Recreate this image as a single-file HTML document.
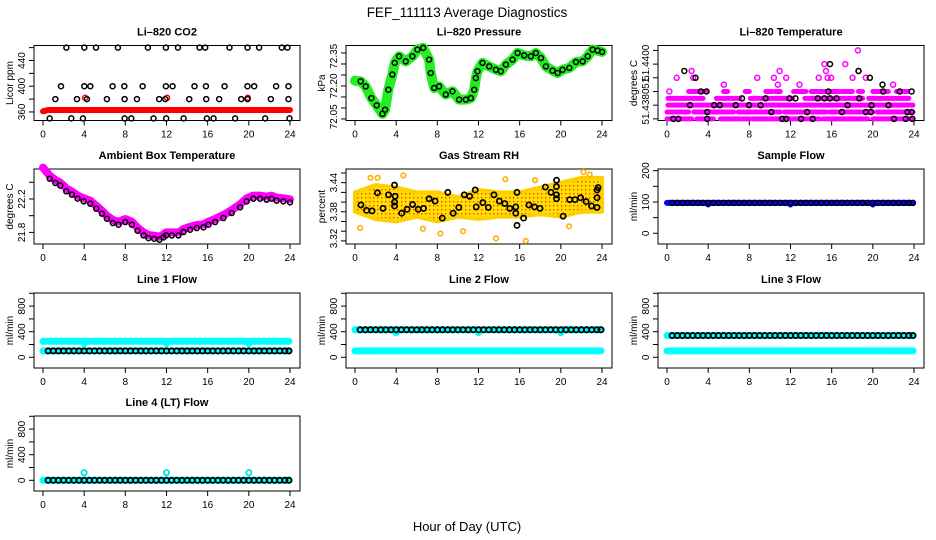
<!DOCTYPE html>
<html><head><meta charset="utf-8"><title>FEF_111113 Average Diagnostics</title>
<style>
html,body{margin:0;padding:0;background:#fff;}
svg{display:block;font-family:"Liberation Sans",sans-serif;}
</style></head>
<body>
<svg id="chart" width="936" height="540" viewBox="0 0 936 540" xmlns="http://www.w3.org/2000/svg">
<defs>
<pattern id="rhpat" width="4" height="4" patternUnits="userSpaceOnUse">
<rect width="4" height="4" fill="#ffe000"/><rect x="1" y="1" width="1.4" height="1.4" fill="#ff4000"/>
</pattern>
<pattern id="grpat" width="3" height="3" patternUnits="userSpaceOnUse">
<rect width="3" height="3" fill="#22ee22"/><rect x="1" y="1" width="1" height="1" fill="#006600"/>
</pattern>
</defs>
<text x="467" y="17" font-size="13.5" text-anchor="middle">FEF_111113  Average Diagnostics</text>
<text x="467" y="531" font-size="13" text-anchor="middle">Hour of Day (UTC)</text>
</svg>
<script>
// ---------- data ----------
const hourTicks = [0,4,8,12,16,20,24];
// CO2
const co2Hours460 = [2.27,4.01,5.15,7.28,10.19,11.94,13.11,15.21,15.76,18.12,19.87,21.0,23.2,23.75];
const co2Hours400 = [1.75,4.01,4.6,6.76,7.9,9.68,11.94,12.59,14.72,15.83,17.64,19.87,20.52,22.65,23.85];
const co2Hours380 = [1.2,3.3,4.27,6.21,7.93,9.13,11.29,11.88,14.21,15.86,17.12,19.26,19.87,22.14,23.85];
const co2Hours350 = [0.65,2.75,3.88,7.93,8.58,10.74,11.97,13.66,15.92,16.57,18.67,21.59,23.95];
const co2RedBandHours = [0,0.5,24];
const co2RedBandValues = [361,363,363];
const co2RedHours = [4.1,12.05,19.9];
const co2RedValues = [382,382,382];
// Pressure
const presHours = [0,0.55,1.04,1.59,2.11,2.66,2.92,3.24,3.63,3.86,4.28,4.93,5.58,6.07,6.62,7.2,7.36,7.69,8.17,8.82,9.47,10.12,10.77,11.26,11.58,11.74,11.9,12.39,13.04,13.69,14.17,14.66,15.31,15.8,16.44,17.09,17.58,18.07,18.55,19.2,19.69,20.17,20.82,21.47,22.12,22.61,23.09,23.58,24];
const presValues = [72.224,72.221,72.198,72.145,72.112,72.073,72.092,72.183,72.252,72.305,72.335,72.312,72.335,72.365,72.373,72.32,72.259,72.191,72.198,72.161,72.176,72.138,72.138,72.145,72.183,72.236,72.267,72.305,72.289,72.274,72.267,72.297,72.32,72.35,72.339,72.335,72.35,72.327,72.289,72.27,72.259,72.274,72.282,72.309,72.312,72.335,72.365,72.361,72.355];
// Li-820 temperature
const tempRunLevels = [51.4375,51.43775,51.438,51.43825,51.4385];
const tempRuns = [
 [[0,2.4],[2.9,4.5],[5.2,8.0],[8.3,11.2],[11.5,14.8],[15.2,19.5],[20.0,23.8]],
 [[0,2.1],[2.6,6.5],[6.9,11.0],[11.4,15.5],[15.8,20.0],[20.4,23.9]],
 [[0.1,4.5],[4.7,14.5],[14.8,23.9]],
 [[0.1,3.5],[4.8,7.1],[8.1,12.2],[13.4,15.2],[15.5,19.0],[19.6,23.5]],
 [[2.1,3.8],[5.5,5.9],[7.6,8.0],[9.6,10.2],[10.5,11.0],[12.3,13.5],[14.0,16.8],[17.0,18.0],[18.6,19.0],[20.0,21.5],[22.3,23.4]]
];
const tempMagHours = [0.94,2.39,2.55,5.52,8.77,10.39,10.77,10.94,11.58,12.87,14.74,15.29,15.45,15.61,15.94,17.32,18.03,18.61,18.55,19.32,21.97,0.23];
const tempMagValues = [51.439,51.43925,51.439,51.43875,51.439,51.439,51.43875,51.43925,51.439,51.43875,51.439,51.4395,51.43925,51.439,51.439,51.4395,51.439,51.43925,51.4400,51.439,51.43875,51.4385];
const tempBlkHours = [1.68,2.77,3.29,3.84,2.23,3.9,3.9,0.61,1.1,4.58,5.13,6.68,7.29,7.97,9.1,9.58,10.13,11.19,11.58,11.9,12.48,13.03,13.61,14.16,14.65,15.29,15.84,15.84,15.68,16.48,17.0,17.55,18.61,18.68,19.32,19.81,19.71,19.87,20.94,21.0,21.52,22.06,22.61,23.19,23.35,23.77,23.77,23.84];
const tempBlkValues = [51.43925,51.439,51.4385,51.4385,51.438,51.43775,51.4375,51.4375,51.4375,51.438,51.438,51.438,51.43825,51.438,51.438,51.43825,51.43775,51.4375,51.4375,51.43825,51.43825,51.4375,51.43775,51.4375,51.43825,51.43825,51.4395,51.43825,51.4385,51.43825,51.43775,51.438,51.43925,51.43825,51.43775,51.43775,51.439,51.438,51.43875,51.4385,51.438,51.4375,51.4385,51.4375,51.43775,51.43775,51.4385,51.4375];
// Ambient box temperature
const ambHours = [0,0.65,1.2,1.68,2.26,2.81,3.36,3.95,4.59,5.17,5.72,6.21,6.79,7.34,7.99,8.63,9.19,9.77,10.25,10.8,11.32,11.71,11.97,12.52,13.16,13.65,14.29,14.94,15.59,16.07,16.72,17.53,18.34,19.15,19.79,20.44,21.09,21.73,22.22,22.7,23.35,24];
const ambValues = [22.539,22.443,22.392,22.36,22.292,22.252,22.205,22.172,22.144,22.084,22.024,21.964,21.912,21.892,21.924,21.892,21.82,21.764,21.732,21.724,21.712,21.74,21.764,21.764,21.764,21.804,21.832,21.852,21.86,21.892,21.924,21.972,22.032,22.1,22.172,22.204,22.204,22.192,22.204,22.18,22.172,22.16];
// Gas stream RH
const rhEnvHours = [0,2,4,6,8,10,12,14,16,18,20,22,24];
const rhUpper = [3.42,3.435,3.43,3.42,3.42,3.41,3.425,3.42,3.42,3.43,3.44,3.45,3.45];
const rhLower = [3.38,3.365,3.36,3.37,3.36,3.37,3.365,3.37,3.37,3.375,3.37,3.38,3.38];
const rhOutHours = [0.5,1.5,2.2,4.7,6.6,8.3,10.5,13.7,14.6,16.6,17.5,20.8,22.2,22.8];
const rhOutValues = [3.347,3.45,3.45,3.455,3.345,3.335,3.34,3.325,3.447,3.32,3.445,3.35,3.462,3.457];
const rhBlkHours = [0.58,1.12,1.66,2.18,2.72,3.26,3.84,3.9,3.84,3.84,4.54,5.06,5.6,6.14,6.66,7.2,7.78,8.48,9.02,9.54,10.08,10.62,11.14,11.68,11.78,12.42,12.96,13.5,14.02,14.56,15.04,15.62,15.62,15.74,15.74,16.38,16.9,17.44,17.98,18.5,19.04,19.58,19.58,19.58,19.58,20.22,20.86,21.38,21.92,22.46,22.98,23.52,23.52,23.52,23.62];
const rhBlkValues = [3.394,3.383,3.382,3.419,3.387,3.415,3.435,3.412,3.40,3.392,3.377,3.385,3.395,3.385,3.387,3.407,3.402,3.367,3.42,3.377,3.389,3.415,3.412,3.425,3.39,3.399,3.389,3.415,3.402,3.397,3.387,3.39,3.377,3.352,3.42,3.367,3.394,3.39,3.387,3.431,3.42,3.445,3.432,3.407,3.415,3.371,3.405,3.405,3.409,3.401,3.392,3.409,3.425,3.389,3.43];
// Flows
const blkHours = [0.5,1,1.5,2,2.5,3,3.5,4,4.5,5,5.5,6,6.5,7,7.5,8,8.5,9,9.5,10,10.5,11,11.5,12,12.5,13,13.5,14,14.5,15,15.5,16,16.5,17,17.5,18,18.5,19,19.5,20,20.5,21,21.5,22,22.5,23,23.5,23.9];
const dipHours = [0,3.9,4,4.1,11.9,12,12.1,19.9,20,20.1,23.9];
const sampleBlueValues = [97,97,92,97,97,92,97,97,92,97,97];
const sampleBlackValue = 97;
const line1UpperValues = [250,250,215,250,250,215,250,250,215,250,250];
const line1LowerValues = [100,100,100,100,100,100,100,100,100,100,100];
const line1BlackValue = 100;
const line2UpperValues = [430,430,385,430,430,385,430,430,385,430,430];
const line2LowerValues = [100,100,100,100,100,100,100,100,100,100,100];
const line2BlackValue = 430;
const line3UpperValues = [340,340,340,340,340,340,340,340,340,340,340];
const line3LowerValues = [100,100,100,100,100,100,100,100,100,100,100];
const line3BlackValue = 340;
const line4CyanValues = [0,0,0,0,0,0,0,0,0,0,0];
const line4SpikeHours = [4,12,20];
const line4SpikeValues = [120,120,120];
const line4BlackValue = 0;

// ---------- layout ----------
const svg = document.getElementById('chart');
const NS = 'http://www.w3.org/2000/svg';
const colLeft = [34,346,658], rowTop = [45.5,169,293,416], W = 266, H = 75;
function mk(tag, attrs, parent){ const e=document.createElementNS(NS,tag); for(const k in attrs) e.setAttribute(k,attrs[k]); (parent||svg).appendChild(e); return e; }

function panel(name, col, row, title, ylab, ymin, ymax, ticks, labels){
  const g = mk('g',{});
  
  
  const L=colLeft[col], T=rowTop[row];
  const p = {g, L, T,
    x: h => L + 9 + h/24*247,
    y: v => T + (ymax - v)/(ymax - ymin)*H};
  const box = mk('rect',{x:L,y:T,width:W,height:H,fill:'none',stroke:'#000','stroke-width':1},g);
  
  
  const t = mk('text',{x:L+W/2,y:T-10,'font-size':11,'font-weight':'bold','text-anchor':'middle'},g);
  t.textContent = title;
  
  
  const yt = mk('text',{x:L-21,y:T+H/2,'font-size':10,'text-anchor':'middle',transform:`rotate(-90 ${L-21} ${T+H/2})`},g);
  yt.textContent = ylab;
  
  
  const xa = mk('g',{},g);
  
  
  mk('line',{x1:p.x(0),x2:p.x(24),y1:T+H,y2:T+H,stroke:'#000'},xa);
  hourTicks.forEach(h=>{
    mk('line',{x1:p.x(h),x2:p.x(h),y1:T+H,y2:T+H+5,stroke:'#000'},xa);
    const tx = mk('text',{x:p.x(h),y:T+H+17,'font-size':10,'text-anchor':'middle'},xa);
    tx.textContent = h;
  });
  const ya = mk('g',{},g);
  
  
  mk('line',{x1:L,x2:L,y1:p.y(ticks[0]),y2:p.y(ticks[ticks.length-1]),stroke:'#000'},ya);
  ticks.forEach(v=> mk('line',{x1:L-5,x2:L,y1:p.y(v),y2:p.y(v),stroke:'#000'},ya));
  labels.forEach(([v,s])=>{
    const yy=p.y(v), xx=L-9;
    const tx = mk('text',{x:xx,y:yy,'font-size':10,'text-anchor':'middle',transform:`rotate(-90 ${xx} ${yy})`},ya);
    tx.textContent = s;
  });
  return p;
}
function circles(p, hs, vs, color, name, r, sw){
  const g = mk('g',{fill:'none',stroke:color,'stroke-width':sw||1.5},p.g);
  
  
  hs.forEach((h,i)=> mk('circle',{cx:p.x(h),cy:p.y(vs[i]),r:r||2.5},g));
}
function band(p, hs, vs, color, width, name, dy){
  const pts = hs.map((h,i)=>p.x(h)+','+(p.y(vs[i])+(dy||0))).join(' ');
  const l = mk('polyline',{points:pts,fill:'none',stroke:color,'stroke-width':width,'stroke-linejoin':'round','stroke-linecap':'round'},p.g);
  
  
}
const fill = (n,v)=>blkHours.map(()=>v);

// CO2
let p = panel('co2',0,0,'Li\u2013820 CO2','Licor ppm',346.7,463.3,[360,380,400,420,440,460],[[360,'360'],[400,'400'],[440,'440']]);
band(p, co2RedBandHours, co2RedBandValues, '#ff0000', 6, 'co2-red-band');
circles(p, co2RedHours, co2RedValues, '#ff0000', 'co2-red-points');
circles(p, co2Hours460, co2Hours460.map(()=>460), '#000', 'co2-points-460');
circles(p, co2Hours400, co2Hours400.map(()=>400), '#000', 'co2-points-400');
circles(p, co2Hours380, co2Hours380.map(()=>380), '#000', 'co2-points-380');
circles(p, co2Hours350, co2Hours350.map(()=>350), '#000', 'co2-points-350');

// Pressure
p = panel('pressure',1,0,'Li\u2013820 Pressure','kPa',72.043,72.384,[72.05,72.10,72.15,72.20,72.25,72.30,72.35],[[72.335,'72.35'],[72.20,'72.20'],[72.06,'72.05']]);
band(p, presHours, presValues, '#22ee22', 10, 'pressure-green-band');
circles(p, presHours.slice(1), presValues.slice(1), '#000', 'pressure-black-points');

// Temperature
p = panel('li820-temp',2,0,'Li\u2013820 Temperature','degrees C',51.43744,51.44018,[51.4375,51.438,51.4385,51.439,51.4395,51.44],[[51.43955,'51.4400'],[51.43885,'51.'],[51.43795,'51.4380']]);
tempRuns.forEach((runs,li)=>runs.forEach((r,ri)=>band(p, r, [tempRunLevels[li],tempRunLevels[li]], '#ff00ff', 5, 'temp-magenta-run')));
circles(p, tempMagHours, tempMagValues, '#ff00ff', 'temp-magenta-points');
circles(p, tempBlkHours, tempBlkValues, '#000', 'temp-black-points');

// Ambient
p = panel('ambient-temp',0,1,'Ambient Box Temperature','degrees C',21.661,22.559,[21.8,22.0,22.2,22.4],[[21.8,'21.8'],[22.2,'22.2']]);
band(p, ambHours, ambValues, '#ff00ff', 8, 'ambient-magenta-band', -3);
circles(p, ambHours.slice(1), ambValues.slice(1), '#000', 'ambient-black-points');

// RH
p = panel('gas-rh',1,1,'Gas Stream RH','percent',3.3136,3.4682,[3.32,3.34,3.36,3.38,3.40,3.42,3.44,3.46],[[3.44,'3.44'],[3.38,'3.38'],[3.325,'3.32']]);
{
  const pts = rhEnvHours.map((h,i)=>p.x(h)+','+p.y(rhUpper[i])).concat(rhEnvHours.slice().reverse().map((h,i)=>p.x(h)+','+p.y(rhLower[rhLower.length-1-i])));
  const poly = mk('polygon',{points:pts.join(' '),fill:'url(#rhpat)',stroke:'#ffd000','stroke-width':4,'stroke-linejoin':'round'},p.g);
  
  
}
circles(p, rhOutHours, rhOutValues, '#ffb000', 'rh-outlier-points', 2.3, 1.6);
circles(p, rhBlkHours, rhBlkValues, '#000', 'rh-black-points', 2.6, 1.7);

// Sample flow
p = panel('sample-flow',2,1,'Sample Flow','ml/min',-34.2,205.4,[0,50,100,150,200],[[0,'0'],[100,'100'],[200,'200']]);
band(p, dipHours, sampleBlueValues, '#0000ff', 6, 'sample-blue-band');
circles(p, blkHours, fill(0,sampleBlackValue), '#000', 'sample-black-points');

const fT=[0,200,400,600,800,1000], fL=[[0,'0'],[400,'400'],[800,'800']];
p = panel('line1-flow',0,2,'Line 1 Flow','ml/min',-167,1004.7,fT,fL);
band(p, dipHours, line1UpperValues, '#00ffff', 7, 'line1-cyan-upper');
band(p, dipHours, line1LowerValues, '#00ffff', 7, 'line1-cyan-lower');
circles(p, blkHours, fill(0,line1BlackValue), '#000', 'line1-black-points', 2.6, 1.8);

p = panel('line2-flow',1,2,'Line 2 Flow','ml/min',-167,1004.7,fT,fL);
band(p, dipHours, line2LowerValues, '#00ffff', 7, 'line2-cyan-lower');
band(p, dipHours, line2UpperValues, '#00ffff', 7, 'line2-cyan-upper');
circles(p, blkHours, fill(0,line2BlackValue), '#000', 'line2-black-points', 2.6, 1.8);

p = panel('line3-flow',2,2,'Line 3 Flow','ml/min',-167,1004.7,fT,fL);
band(p, dipHours, line3LowerValues, '#00ffff', 7, 'line3-cyan-lower');
band(p, dipHours, line3UpperValues, '#00ffff', 7, 'line3-cyan-upper');
circles(p, blkHours, fill(0,line3BlackValue), '#000', 'line3-black-points', 2.6, 1.8);

p = panel('line4-flow',0,3,'Line 4 (LT) Flow','ml/min',-167,1004.7,fT,fL);
band(p, dipHours, line4CyanValues, '#00ffff', 7, 'line4-cyan-band');
circles(p, line4SpikeHours, line4SpikeValues, '#00e0e0', 'line4-cyan-spikes', 2.6, 1.8);
circles(p, blkHours, fill(0,line4BlackValue), '#000', 'line4-black-points', 2.6, 1.8);
</script>
</body></html>
